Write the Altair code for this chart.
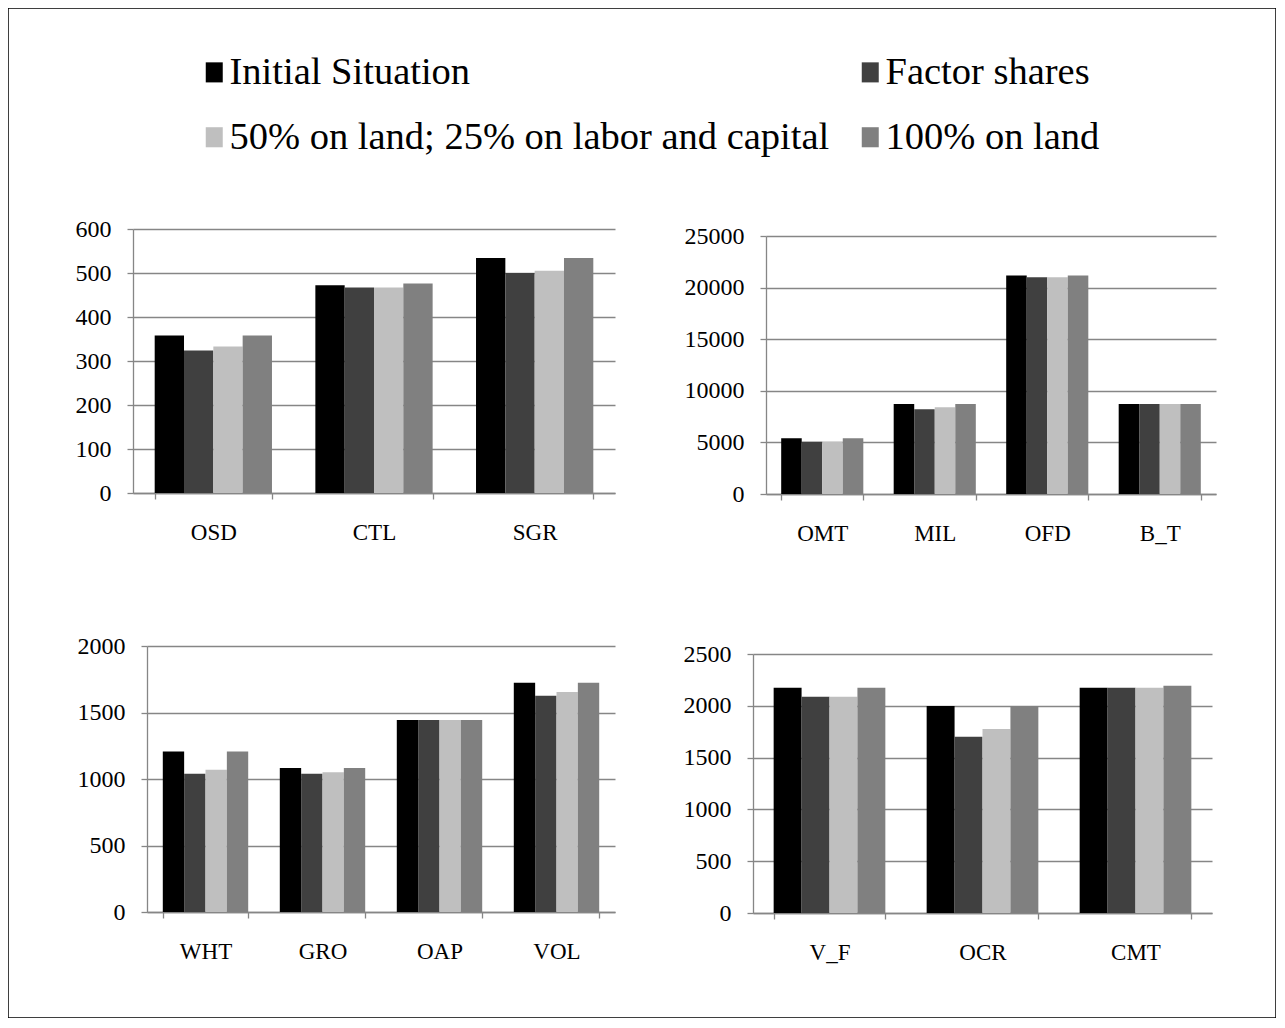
import altair as alt
import pandas as pd

scenarios = ["Initial Situation", "Factor shares",
             "50% on land; 25% on labor and capital", "100% on land"]
colors = ["#000000", "#404040", "#BFBFBF", "#808080"]

# Panel 1 (top left)
p1_cats = ["OSD", "CTL", "SGR"]
p1_initial = [358, 472, 534]
p1_factor = [324, 467, 500]
p1_mixed = [333, 467, 505]
p1_land = [358, 476, 534]
p1_ticks = [0, 100, 200, 300, 400, 500, 600]

# Panel 2 (top right)
p2_cats = ["OMT", "MIL", "OFD", "B_T"]
p2_initial = [5410, 8730, 21170, 8730]
p2_factor = [5060, 8220, 21000, 8730]
p2_mixed = [5060, 8410, 21000, 8730]
p2_land = [5410, 8730, 21170, 8730]
p2_ticks = [0, 5000, 10000, 15000, 20000, 25000]

# Panel 3 (bottom left)
p3_cats = ["WHT", "GRO", "OAP", "VOL"]
p3_initial = [1207, 1082, 1443, 1724]
p3_factor = [1039, 1039, 1443, 1626]
p3_mixed = [1069, 1051, 1443, 1654]
p3_land = [1207, 1082, 1443, 1724]
p3_ticks = [0, 500, 1000, 1500, 2000]

# Panel 4 (bottom right)
p4_cats = ["V_F", "OCR", "CMT"]
p4_initial = [2175, 1998, 2175]
p4_factor = [2088, 1702, 2175]
p4_mixed = [2088, 1776, 2175]
p4_land = [2175, 1998, 2194]
p4_ticks = [0, 500, 1000, 1500, 2000, 2500]

W, H = 1268, 1010
FONT = "Liberation Serif"
GRAY = "#868686"

legend = alt.Legend(
    title=None, orient="none", legendX=187, legendY=45, columns=2,
    direction="horizontal", padding=0,
    symbolType="M-1,-1.18H1V1.18H-1Z", symbolSize=289,
    symbolStrokeWidth=0, labelFont=FONT, labelFontSize=38.5,
    labelColor="black", labelOffset={"expr": "-4"}, labelLimit=2000,
    rowPadding=26, columnPadding=21,
)


def panel(cats, series, ticks, xr, yr):
    rows = []
    for s, vals in zip(scenarios, series):
        for c, v in zip(cats, vals):
            rows.append({"cat": c, "scenario": s, "value": v})
    df = pd.DataFrame(rows)
    return alt.Chart(df).mark_bar().encode(
        x=alt.X("cat:N", sort=cats, title=None,
                scale=alt.Scale(range=xr, paddingInner=0.27, paddingOuter=0.135),
                axis=alt.Axis(orient="bottom", offset=yr[0] - H, grid=False,
                              tickBand="extent", labelAngle=0,
                              labelFont=FONT, labelFontSize=23, labelPadding=22)),
        xOffset=alt.XOffset("scenario:N", sort=scenarios,
                            scale=alt.Scale(domain=scenarios)),
        y=alt.Y("value:Q", title=None,
                scale=alt.Scale(domain=[ticks[0], ticks[-1]], range=yr, nice=False),
                axis=alt.Axis(orient="left", offset=-xr[0], values=ticks,
                              format="d", grid=True,
                              labelFont=FONT, labelFontSize=24, labelPadding=16)),
        color=alt.Color("scenario:N", sort=scenarios,
                        scale=alt.Scale(domain=scenarios, range=colors),
                        legend=legend),
    )


l1 = panel(p1_cats, [p1_initial, p1_factor, p1_mixed, p1_land], p1_ticks,
           [125, 607], [485, 221])
l2 = panel(p2_cats, [p2_initial, p2_factor, p2_mixed, p2_land], p2_ticks,
           [758, 1208], [486, 228])
l3 = panel(p3_cats, [p3_initial, p3_factor, p3_mixed, p3_land], p3_ticks,
           [139, 607], [904, 638])
l4 = panel(p4_cats, [p4_initial, p4_factor, p4_mixed, p4_land], p4_ticks,
           [745, 1204], [905, 646])

chart = alt.layer(l1, l2, l3, l4).resolve_scale(
    x="independent", y="independent", xOffset="independent", color="shared"
).resolve_axis(
    x="independent", y="independent"
).properties(
    width=W, height=H, padding=0
).configure(
    font=FONT
).configure_view(
    stroke="black", strokeWidth=1.5
).configure_axis(
    labelFont=FONT, labelColor="black",
    domainColor=GRAY, domainWidth=1.3, tickColor=GRAY, tickWidth=1.3,
    tickSize=6, gridColor=GRAY, gridWidth=1.3, gridOpacity=1,
).configure_legend(
    labelFont=FONT
)

chart.save("out.html", embed_options={"renderer": "svg", "actions": False})
